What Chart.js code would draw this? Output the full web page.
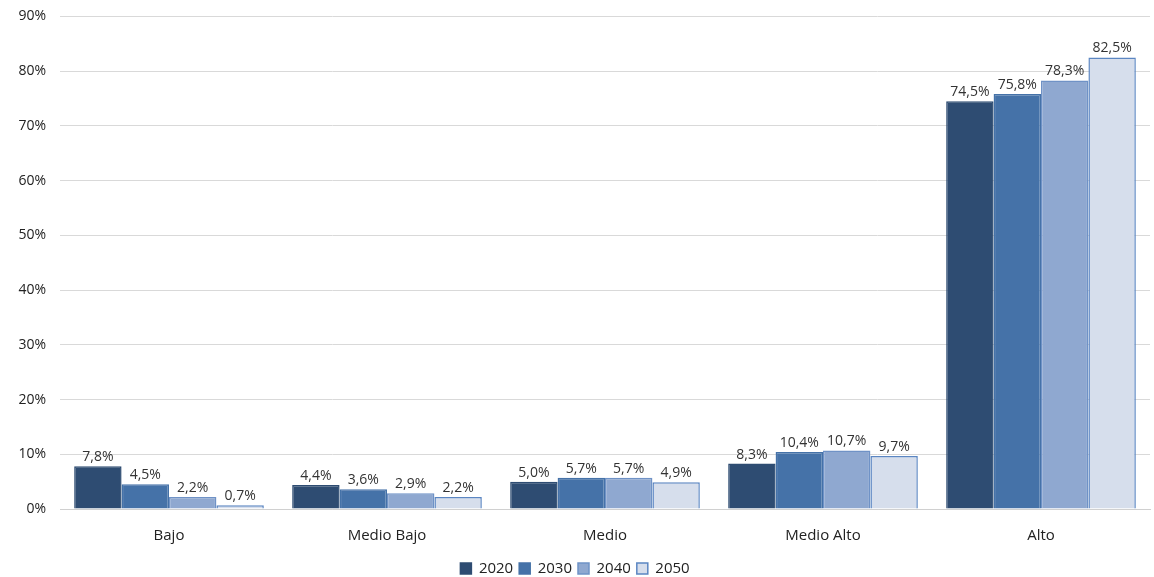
<!DOCTYPE html>
<html lang="es">
<head>
  <meta charset="UTF-8">
  <title>Proyección por grupo</title>
  <script src="https://cdn.jsdelivr.net/npm/chart.js"></script>
  <style>
    html, body { margin: 0; padding: 0; background: #fff; overflow: hidden; }
    #clip { width: 1154px; height: 577px; overflow: hidden; position: relative; }
    #wrap { width: 1154px; height: 592px; position: absolute; top: -6px; left: 0; }
  </style>
</head>
<body>
  <div id="clip"><div id="wrap"><canvas id="chart"></canvas></div></div>

  <script>
    const categories = ['Bajo', 'Medio Bajo', 'Medio', 'Medio Alto', 'Alto'];
    const years = ['2020', '2030', '2040', '2050'];
    const values2020 = [7.8, 4.4, 5.0, 8.3, 74.5];
    const values2030 = [4.5, 3.6, 5.7, 10.4, 75.8];
    const values2040 = [2.2, 2.9, 5.7, 10.7, 78.3];
    const values2050 = [0.7, 2.2, 4.9, 9.7, 82.5];
    const yTicks = [0, 10, 20, 30, 40, 50, 60, 70, 80, 90];

    const fills = ['#2E4C72', '#4572A8', '#8FA8D0', '#D6DEEC'];
    const borders = ['#2E4C72', '#4572A8', '#6F92C6', '#5B86C2'];
    const series = [values2020, values2030, values2040, values2050];

    const fmt = v => v.toFixed(1).replace('.', ',') + '%';

    // draws the value above each bar
    const barLabels = {
      id: 'barLabels',
      afterDatasetsDraw(chart) {
        const ctx = chart.ctx;
        ctx.save();
        ctx.font = '14px "Open Sans", sans-serif';
        ctx.fillStyle = '#333';
        ctx.textAlign = 'center';
        ctx.textBaseline = 'bottom';
        chart.data.datasets.forEach((ds, i) => {
          chart.getDatasetMeta(i).data.forEach((bar, j) => {
            ctx.fillText(fmt(ds.data[j]), bar.x, bar.y - 2);
          });
        });
        ctx.restore();
      }
    };

    new Chart(document.getElementById('chart'), {
      type: 'bar',
      data: {
        labels: categories,
        datasets: years.map((y, i) => ({
          label: y,
          data: series[i],
          backgroundColor: fills[i],
          borderColor: borders[i],
          borderWidth: 1.5,
          categoryPercentage: 0.87,
          barPercentage: 1.0
        }))
      },
      options: {
        responsive: true,
        maintainAspectRatio: false,
        animation: false,
        layout: { padding: { top: 9, right: 4, left: 0, bottom: 0 } },
        scales: {
          x: {
            grid: { display: false },
            border: { color: '#d0d0d0', width: 1 },
            ticks: {
              color: '#222',
              font: { family: '"Open Sans", sans-serif', size: 15 },
              padding: 10
            }
          },
          y: {
            min: 0,
            max: 90,
            afterBuildTicks(axis) {
              axis.ticks = yTicks.map(v => ({ value: v }));
            },
            afterFit(axis) { axis.width = 60; },
            grid: { color: '#d9d9d9', drawTicks: false },
            border: { display: false },
            ticks: {
              color: '#222',
              font: { family: '"Open Sans", sans-serif', size: 14 },
              padding: 14,
              callback: v => v + '%'
            }
          }
        },
        plugins: {
          legend: {
            position: 'bottom',
            labels: {
              boxWidth: 11,
              boxHeight: 11,
              padding: 6,
              color: '#222',
              font: { family: '"Open Sans", sans-serif', size: 15 }
            }
          },
          tooltip: { enabled: false }
        }
      },
      plugins: [barLabels]
    });
  </script>
</body>
</html>
